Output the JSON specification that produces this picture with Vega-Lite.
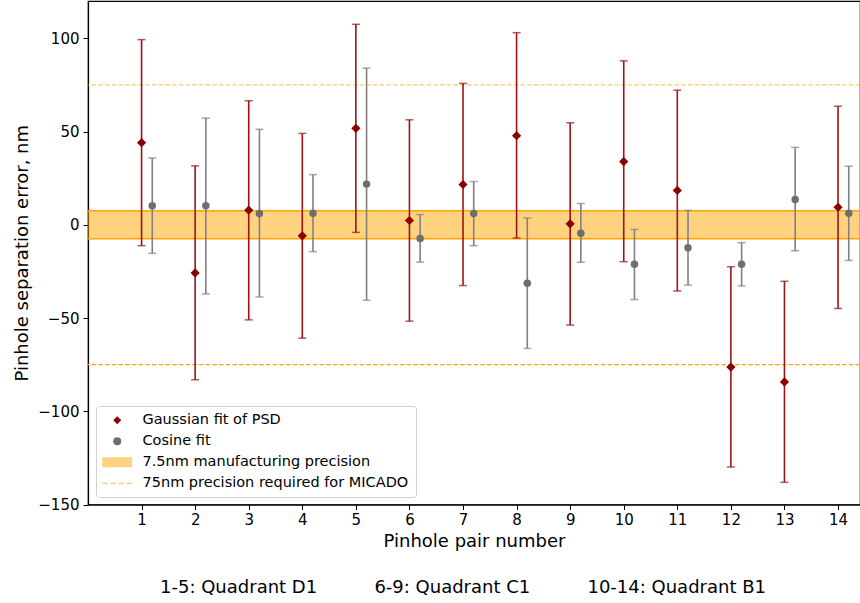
{
  "$schema": "https://vega.github.io/schema/vega-lite/v6.json",
  "autosize": {"type": "none"},
  "padding": {"left": 88, "top": 1, "right": 0, "bottom": 98.5},
  "width": 772,
  "height": 503.5,
  "background": "white",
  "title": {
    "text": "1-5: Quadrant D1\u00a0\u00a0\u00a0\u00a0\u00a0\u00a0\u00a0\u00a0\u00a0\u00a06-9: Quadrant C1\u00a0\u00a0\u00a0\u00a0\u00a0\u00a0\u00a0\u00a0\u00a0\u00a010-14: Quadrant B1",
    "orient": "bottom",
    "anchor": "middle",
    "dx": -11,
    "offset": 28,
    "font": "DejaVu Sans",
    "fontSize": 18,
    "fontWeight": "normal",
    "color": "#000000"
  },
  "config": {
    "font": "DejaVu Sans",
    "view": {"stroke": "#000000", "strokeWidth": 1.2},
    "axis": {
      "labelFont": "DejaVu Sans",
      "labelFontSize": 15,
      "labelColor": "#000000",
      "titleFont": "DejaVu Sans",
      "titleFontSize": 18,
      "titleFontWeight": "normal",
      "titleColor": "#000000",
      "tickColor": "#000000",
      "tickSize": 5,
      "tickWidth": 1,
      "domainColor": "#000000",
      "domainWidth": 1.2,
      "grid": false
    },
    "legend": {
      "labelFont": "DejaVu Sans",
      "labelFontSize": 14.5,
      "labelColor": "#000000",
      "labelLimit": 400,
      "symbolSize": 64,
      "symbolStrokeWidth": 0,
      "padding": 7,
      "rowPadding": 6,
      "strokeColor": "#d0d0d0",
      "fillColor": "#ffffff",
      "cornerRadius": 3,
      "symbolOffset": 7,
      "labelOffset": 18
    }
  },
  "datasets": {
    "fits": [
      {"pair": 1, "method": "Gaussian fit of PSD", "value": 44.0, "lo": -11.2, "hi": 99.3},
      {"pair": 1, "method": "Cosine fit", "value": 10.2, "lo": -15.3, "hi": 35.8},
      {"pair": 2, "method": "Gaussian fit of PSD", "value": -25.8, "lo": -83.1, "hi": 31.6},
      {"pair": 2, "method": "Cosine fit", "value": 10.2, "lo": -37.1, "hi": 57.2},
      {"pair": 3, "method": "Gaussian fit of PSD", "value": 7.8, "lo": -51.0, "hi": 66.5},
      {"pair": 3, "method": "Cosine fit", "value": 6.1, "lo": -38.7, "hi": 51.2},
      {"pair": 4, "method": "Gaussian fit of PSD", "value": -5.9, "lo": -60.8, "hi": 49.0},
      {"pair": 4, "method": "Cosine fit", "value": 6.2, "lo": -14.4, "hi": 26.9},
      {"pair": 5, "method": "Gaussian fit of PSD", "value": 51.7, "lo": -4.1, "hi": 107.5},
      {"pair": 5, "method": "Cosine fit", "value": 21.8, "lo": -40.5, "hi": 84.0},
      {"pair": 6, "method": "Gaussian fit of PSD", "value": 2.3, "lo": -51.7, "hi": 56.3},
      {"pair": 6, "method": "Cosine fit", "value": -7.3, "lo": -20.0, "hi": 5.5},
      {"pair": 7, "method": "Gaussian fit of PSD", "value": 21.6, "lo": -32.6, "hi": 75.8},
      {"pair": 7, "method": "Cosine fit", "value": 6.1, "lo": -11.2, "hi": 23.2},
      {"pair": 8, "method": "Gaussian fit of PSD", "value": 47.8, "lo": -7.1, "hi": 103.0},
      {"pair": 8, "method": "Cosine fit", "value": -31.4, "lo": -66.3, "hi": 3.6},
      {"pair": 9, "method": "Gaussian fit of PSD", "value": 0.5, "lo": -53.8, "hi": 54.7},
      {"pair": 9, "method": "Cosine fit", "value": -4.6, "lo": -20.1, "hi": 11.4},
      {"pair": 10, "method": "Gaussian fit of PSD", "value": 33.9, "lo": -19.8, "hi": 87.9},
      {"pair": 10, "method": "Cosine fit", "value": -21.2, "lo": -40.1, "hi": -2.5},
      {"pair": 11, "method": "Gaussian fit of PSD", "value": 18.4, "lo": -35.5, "hi": 72.2},
      {"pair": 11, "method": "Cosine fit", "value": -12.3, "lo": -32.3, "hi": 7.7},
      {"pair": 12, "method": "Gaussian fit of PSD", "value": -76.3, "lo": -129.9, "hi": -22.5},
      {"pair": 12, "method": "Cosine fit", "value": -21.2, "lo": -32.8, "hi": -9.6},
      {"pair": 13, "method": "Gaussian fit of PSD", "value": -84.3, "lo": -138.1, "hi": -30.3},
      {"pair": 13, "method": "Cosine fit", "value": 13.5, "lo": -13.9, "hi": 41.5},
      {"pair": 14, "method": "Gaussian fit of PSD", "value": 9.4, "lo": -44.9, "hi": 63.6},
      {"pair": 14, "method": "Cosine fit", "value": 6.2, "lo": -19.1, "hi": 31.4}
    ],
    "band": [{"lo": -7.5, "hi": 7.5}],
    "bandEdges": [{"y": -7.5}, {"y": 7.5}],
    "limits": [{"y": 75, "op": 0.6}, {"y": -75, "op": 1}]
  },
  "layer": [
    {
      "data": {"name": "band"},
      "mark": {"type": "rect", "fill": "#ffa500", "fillOpacity": 0.5, "strokeWidth": 0},
      "encoding": {
        "y": {"field": "lo", "type": "quantitative", "scale": {"domain": [-150, 120], "nice": false, "zero": false},
          "axis": {"values": [-150, -100, -50, 0, 50, 100], "title": "Pinhole separation error, nm", "titlePadding": 6, "labelPadding": 4}},
        "y2": {"field": "hi"}
      }
    },
    {
      "data": {"name": "bandEdges"},
      "mark": {"type": "rule", "color": "#ffa500", "strokeWidth": 1.5},
      "encoding": {"y": {"field": "y", "type": "quantitative"}}
    },
    {
      "data": {"name": "limits"},
      "mark": {"type": "rule", "color": "#ffa500", "strokeWidth": 1.2, "strokeDash": [4.5, 2.2]},
      "encoding": {
        "y": {"field": "y", "type": "quantitative"},
        "opacity": {"field": "op", "type": "quantitative", "scale": null}
      }
    },
    {
      "data": {"name": "fits"},
      "transform": [{"filter": "datum.method === 'Gaussian fit of PSD'"}],
      "mark": {"type": "rule", "strokeWidth": 1.6, "color": "#9a1414"},
      "encoding": {
        "x": {"field": "pair", "type": "quantitative", "scale": {"domain": [0, 14.41], "nice": false, "zero": false},
          "axis": {"values": [1,2,3,4,5,6,7,8,9,10,11,12,13,14], "labelPadding": 3, "titlePadding": 5,
            "title": "Pinhole pair number"}},
        "y": {"field": "lo", "type": "quantitative"},
        "y2": {"field": "hi"}
      }
    },
    {
      "data": {"name": "fits"},
      "transform": [{"filter": "datum.method === 'Cosine fit'"}],
      "mark": {"type": "rule", "strokeWidth": 1.6, "color": "#808080", "xOffset": 10.7},
      "encoding": {
        "x": {"field": "pair", "type": "quantitative"},
        "y": {"field": "lo", "type": "quantitative"},
        "y2": {"field": "hi"}
      }
    },
    {
      "data": {"name": "fits"},
      "transform": [{"filter": "datum.method === 'Gaussian fit of PSD'"}, {"fold": ["lo", "hi"], "as": ["end", "bound"]}],
      "mark": {"type": "tick", "orient": "horizontal", "size": 8, "thickness": 1.5, "color": "#9a1414"},
      "encoding": {
        "x": {"field": "pair", "type": "quantitative"},
        "y": {"field": "bound", "type": "quantitative"}
      }
    },
    {
      "data": {"name": "fits"},
      "transform": [{"filter": "datum.method === 'Cosine fit'"}, {"fold": ["lo", "hi"], "as": ["end", "bound"]}],
      "mark": {"type": "tick", "orient": "horizontal", "size": 8, "thickness": 1.5, "color": "#808080", "xOffset": 10.7},
      "encoding": {
        "x": {"field": "pair", "type": "quantitative"},
        "y": {"field": "bound", "type": "quantitative"}
      }
    },
    {
      "data": {"name": "fits"},
      "transform": [{"filter": "datum.method === 'Cosine fit'"}],
      "mark": {"type": "point", "filled": true, "opacity": 1, "size": 56, "xOffset": 10.7},
      "encoding": {
        "x": {"field": "pair", "type": "quantitative"},
        "y": {"field": "value", "type": "quantitative"},
        "color": {"field": "method", "type": "nominal",
          "scale": {"domain": ["Gaussian fit of PSD", "Cosine fit", "7.5nm manufacturing precision", "75nm precision required for MICADO"],
            "range": ["#8b0000", "#6e6e6e", "#ffd280", "#ffb733"]},
          "legend": {"title": null, "orient": "none", "legendX": 8, "legendY": 405}},
        "shape": {"field": "method", "type": "nominal",
          "scale": {"domain": ["Gaussian fit of PSD", "Cosine fit", "7.5nm manufacturing precision", "75nm precision required for MICADO"],
            "range": ["diamond", "circle", "M-3.75,-1.25H3.75V1.25H-3.75Z", "M-3.75,-0.15H-2.35V0.15H-3.75ZM-1.725,-0.15H-0.325V0.15H-1.725ZM0.3,-0.15H1.7V0.15H0.3ZM2.325,-0.15H3.725V0.15H2.325Z"]},
          "legend": {"title": null, "orient": "none", "legendX": 8, "legendY": 405}}
      }
    },
    {
      "data": {"name": "fits"},
      "transform": [{"filter": "datum.method === 'Gaussian fit of PSD'"}],
      "mark": {"type": "point", "filled": true, "opacity": 1, "size": 85},
      "encoding": {
        "x": {"field": "pair", "type": "quantitative"},
        "y": {"field": "value", "type": "quantitative"},
        "color": {"field": "method", "type": "nominal"},
        "shape": {"field": "method", "type": "nominal"}
      }
    }
  ]
}
